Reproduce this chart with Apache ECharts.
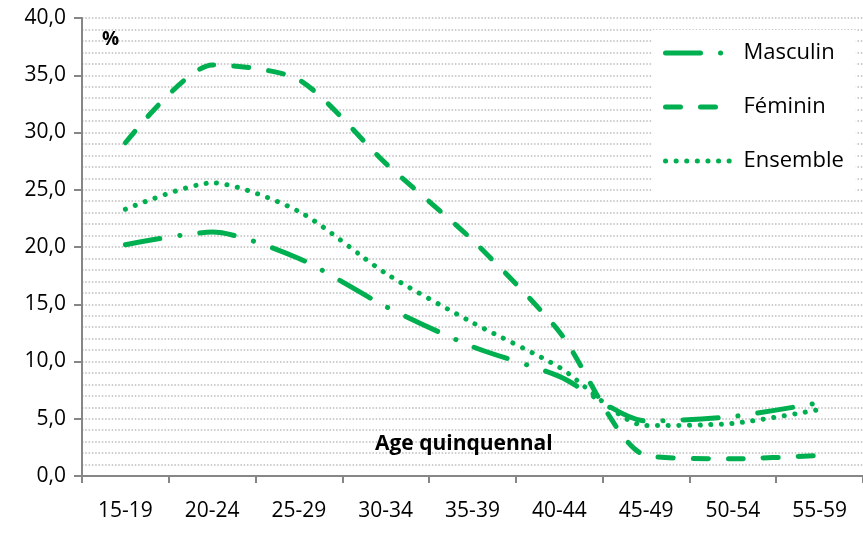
<!DOCTYPE html>
<html>
<head>
<meta charset="utf-8">
<script src="https://cdn.jsdelivr.net/npm/echarts@6/dist/echarts.min.js"></script>
<style>
  html, body { margin: 0; padding: 0; background: #fff; }
  #chart { width: 863px; height: 533px; }
</style>
</head>
<body>
<div id="chart"></div>
<script>
const categories = ['15-19', '20-24', '25-29', '30-34', '35-39', '40-44', '45-49', '50-54', '55-59'];
const masculin = [20.2, 21.3, 19.0, 14.8, 11.3, 8.7, 4.8, 5.2, 6.4];
const feminin = [29.1, 35.9, 34.6, 27.3, 20.6, 12.6, 1.8, 1.5, 1.8];
const ensemble = [23.3, 25.6, 23.1, 17.7, 13.4, 9.5, 4.4, 4.6, 5.8];

const green = '#00B050';
const font = 'Open Sans';

const chart = echarts.init(document.getElementById('chart'));

const mkSeries = (name, data, dash, width) => ({
  name,
  type: 'line',
  data,
  smooth: 0.25,
  symbol: 'none',
  lineStyle: { color: green, width, type: dash, cap: 'round' },
  itemStyle: { color: green }
});

chart.setOption({
  animation: false,
  textStyle: { fontFamily: font },
  grid: { left: 82, right: -8, top: 18, bottom: 57 },
  title: [
    { text: '%', left: 97, top: 25, textStyle: { fontSize: 19, fontWeight: 'bold', color: '#000', fontFamily: font } },
    { text: 'Age quinquennal', left: 370, top: 429, textStyle: { fontSize: 21, fontWeight: 'bold', color: '#000', fontFamily: font } }
  ],
  legend: {
    orient: 'vertical',
    left: 653,
    top: 30,
    padding: [12, 12, 20, 10],
    backgroundColor: '#fff',
    itemWidth: 64,
    itemHeight: 20,
    itemGap: 32,
    itemStyle: { opacity: 0 },
    lineStyle: { width: 5, cap: 'round' },
    textStyle: { fontSize: 22, color: '#000', fontFamily: font, lineHeight: 20, padding: [0, 0, 0, 9] },
    data: ['Masculin', 'Féminin', 'Ensemble']
  },
  xAxis: {
    type: 'category',
    data: categories,
    boundaryGap: true,
    axisLine: { lineStyle: { color: '#868686', width: 2 } },
    axisTick: { show: true, length: 7, lineStyle: { color: '#868686', width: 2 } },
    axisLabel: { color: '#000', fontSize: 21, margin: 25, fontFamily: font },
    splitLine: { show: false }
  },
  yAxis: {
    type: 'value',
    min: 0,
    max: 40,
    interval: 5,
    axisLine: { show: true, lineStyle: { color: '#868686', width: 2 } },
    axisTick: { show: true, length: 8, lineStyle: { color: '#868686', width: 2 } },
    axisLabel: {
      color: '#000', fontSize: 21, margin: 16, fontFamily: font,
      formatter: v => v.toFixed(1).replace('.', ',')
    },
    splitLine: { show: true, lineStyle: { color: '#BDBDBD', width: 1.5, type: [1.5, 1.8] } },
    minorTick: { show: false, splitNumber: 5 },
    minorSplitLine: { show: true, lineStyle: { color: '#BDBDBD', width: 1.5, type: [1.5, 1.8] } }
  },
  series: [
    mkSeries('Masculin', masculin, [35, 20, 0.1, 20], 5),
    mkSeries('Féminin', feminin, [15, 20], 5),
    mkSeries('Ensemble', ensemble, [0.1, 10.5], 5)
  ]
});
</script>
</body>
</html>
